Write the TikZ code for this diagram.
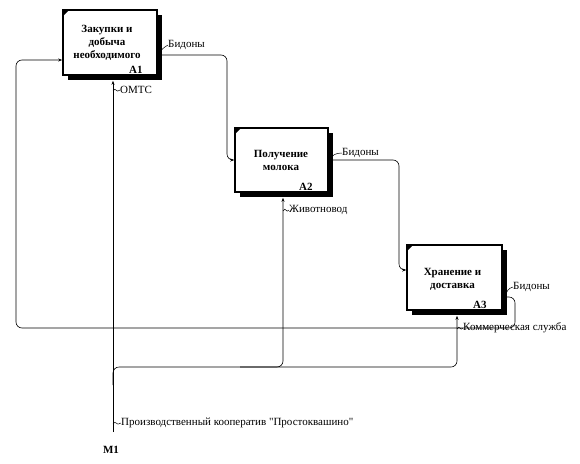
\documentclass[tikz,border=0pt]{standalone}
\usepackage{fontspec}
\setmainfont{Liberation Serif}
\usetikzlibrary{arrows.meta,shadows,calc}
\begin{document}
\begin{tikzpicture}[x=1pt,y=-1pt,
  every node/.style={font=\fontsize{11}{13}\selectfont},
  box/.style={draw,line width=1.6pt,fill=white,inner sep=0pt,minimum width=94pt,minimum height=65pt,
    drop shadow={shadow xshift=5pt,shadow yshift=-5pt,fill=black,opacity=1}},
  fn/.style={font=\fontsize{11}{13}\selectfont\bfseries,align=center,inner sep=0pt},
  num/.style={font=\fontsize{11}{13}\selectfont\bfseries,inner sep=0pt,anchor=south east},
  lab/.style={anchor=west,inner sep=0pt},
  flow/.style={line width=0.6pt,rounded corners=6pt},
  tip/.style={-{Stealth[length=4pt,width=3pt]}},
  sq/.style={line width=0.5pt}]
\fill[white] (0,0) rectangle (580,463);
\useasboundingbox (0,0) rectangle (580,463);

% boxes
\node[box] (A1) at (110,42.5) {};
\node[box,minimum width=93pt,minimum height=64pt] (A2) at (281.5,160) {};
\node[box,minimum width=95pt] (A3) at (454.5,277.5) {};
\foreach \b in {A1,A2,A3}{
  \fill ($(\b.north west)+(0.8,0.8)$) -- ++(6,0) -- ++(-6,6) -- cycle;
}
\node[fn] (t1) at (107,43) {Закупки и\\добыча\\необходимого};
\node[fn] (t2) at (281,160) {Получение\\молока};
\node[fn] (t3) at (452.5,279) {Хранение и\\доставка};
\node[num] (n1) at ($(A1.south east)+(-15,-2)$) {A1};
\node[num] (n2) at ($(A2.south east)+(-16,-2)$) {A2};
\node[num] (n3) at ($(A3.south east)+(-16,-2)$) {A3};

% coordinates
\coordinate (m1top) at (113,432);
\coordinate (busL) at (113,385);
\coordinate (bus2) at (240,367);

% outputs / inputs
\draw[flow,tip] (A1.east |- 0,55) -- (227,55) -- (227,160) -- (A2.west);
\draw[flow,tip] (A2.east |- 0,160) -- (399,160) -- (399,270) -- (A3.west |- 0,270);
\draw[flow,tip] (A3.east |- 0,297) -- (515,297) -- (515,328) -- (16,328) -- (16,60) -- (A1.west |- 0,60);

% mechanisms
\draw[flow,tip] (m1top) -- ($(A1.south -| m1top)+(0,5)$);
\draw[flow,tip] (busL) -- (113,367) -- (457,367) -- ($(A3.south -| 457,0)+(0,5)$);
\draw[flow,tip] (bus2) -- (283,367) -- ($(A2.south -| 283,0)+(0,5)$);

% labels
\node[lab] (b1) at (168,45) {Бидоны};
\node[lab] (b2) at (342,153) {Бидоны};
\node[lab] (b3) at (513,287) {Бидоны};
\node[lab] (l1) at (120,90) {ОМТС};
\node[lab] (l2) at (289,210) {Животновод};
\node[lab] (l3) at (463,328) {Коммерческая служба};
\node[lab] (l4) at (121,423) {Производственный кооператив \textquotedbl Простоквашино\textquotedbl};
\node[font=\fontsize{11}{13}\selectfont\bfseries] (M1) at (111,450) {M1};

% squiggles
\draw[sq] (160,55) .. controls (160,50) and (163,48) .. (b1.west);
\draw[sq] (331,160) .. controls (331,155) and (336,153) .. (b2.west);
\draw[sq] (506,296) .. controls (506,291) and (509,288) .. (b3.west);
\draw[sq] (113,91) .. controls (116,86) and (116,94) .. (l1.west);
\draw[sq] (283,211) .. controls (286,206) and (286,214) .. (l2.west);
\draw[sq] (457,329) .. controls (460,324) and (460,332) .. (l3.west);
\draw[sq] (113,424) .. controls (116,419) and (116,427) .. (l4.west);
\end{tikzpicture}
\end{document}
